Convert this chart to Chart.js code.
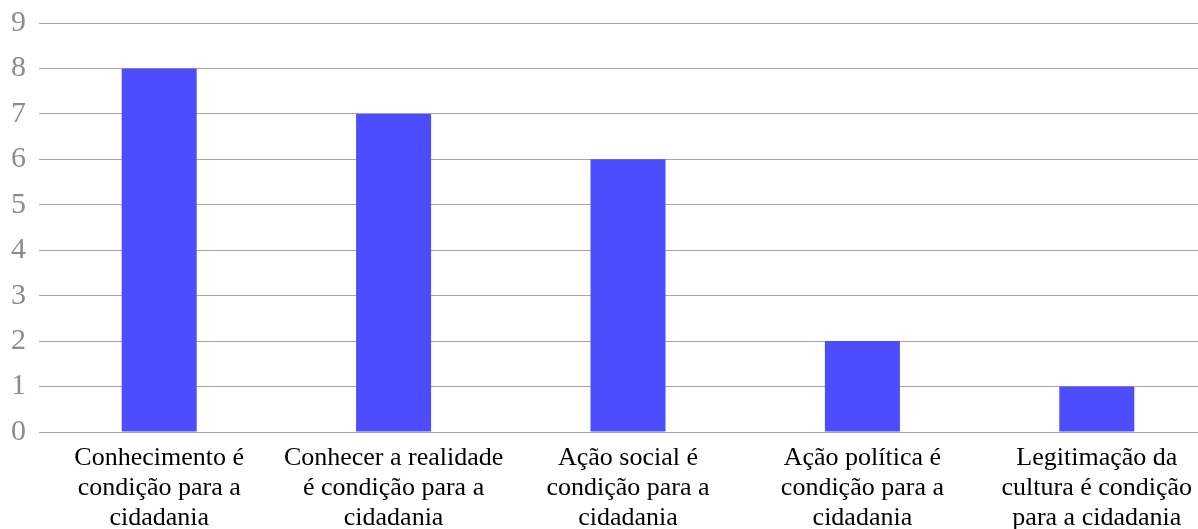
<!DOCTYPE html>
<html>
<head>
<meta charset="utf-8">
<script src="https://cdn.jsdelivr.net/npm/chart.js@4/dist/chart.umd.min.js"></script>
<style>
  html, body { margin: 0; padding: 0; background: #fff; overflow: hidden; }
  #wrap { width: 1214px; height: 529px; position: relative; }
</style>
</head>
<body>
<div id="wrap"><canvas id="c"></canvas></div>
<script>
const categories = [
  ["Conhecimento é", "condição para a", "cidadania"],
  ["Conhecer a realidade", "é condição para a", "cidadania"],
  ["Ação social é", "condição para a", "cidadania"],
  ["Ação política é", "condição para a", "cidadania"],
  ["Legitimação da", "cultura é condição", "para a cidadania"]
];
const values = [8, 7, 6, 2, 1];
const yTicks = [0, 1, 2, 3, 4, 5, 6, 7, 8, 9];

const serif = "'Liberation Serif', 'Times New Roman', serif";

new Chart(document.getElementById('c'), {
  type: 'bar',
  data: {
    labels: categories,
    datasets: [{
      data: values,
      backgroundColor: '#4d4dff',
      borderWidth: 0,
      barPercentage: 0.32,
      categoryPercentage: 1.0
    }]
  },
  options: {
    responsive: true,
    maintainAspectRatio: false,
    animation: false,
    layout: { padding: { top: 23, right: 0, left: 0, bottom: 0 } },
    plugins: { legend: { display: false }, tooltip: { enabled: false } },
    scales: {
      x: {
        grid: { display: false },
        border: { color: '#a6a6a6', width: 1 },
        ticks: {
          color: '#000',
          font: { family: serif, size: 26, lineHeight: 1.15 },
          maxRotation: 0,
          autoSkip: false,
          padding: 3
        },
        afterFit: (s) => { s.height = 97; }
      },
      y: {
        min: 0,
        max: 9,
        afterBuildTicks: (s) => { s.ticks = yTicks.map(v => ({ value: v })); },
        grid: { color: '#a6a6a6', lineWidth: 1, tickLength: 3 },
        border: { display: false },
        ticks: {
          color: '#8c8c8c',
          font: { family: serif, size: 30, lineHeight: 0.01 },
          padding: 13
        },
        afterFit: (s) => { s.width = 42; }
      }
    }
  }
});
</script>
</body>
</html>
